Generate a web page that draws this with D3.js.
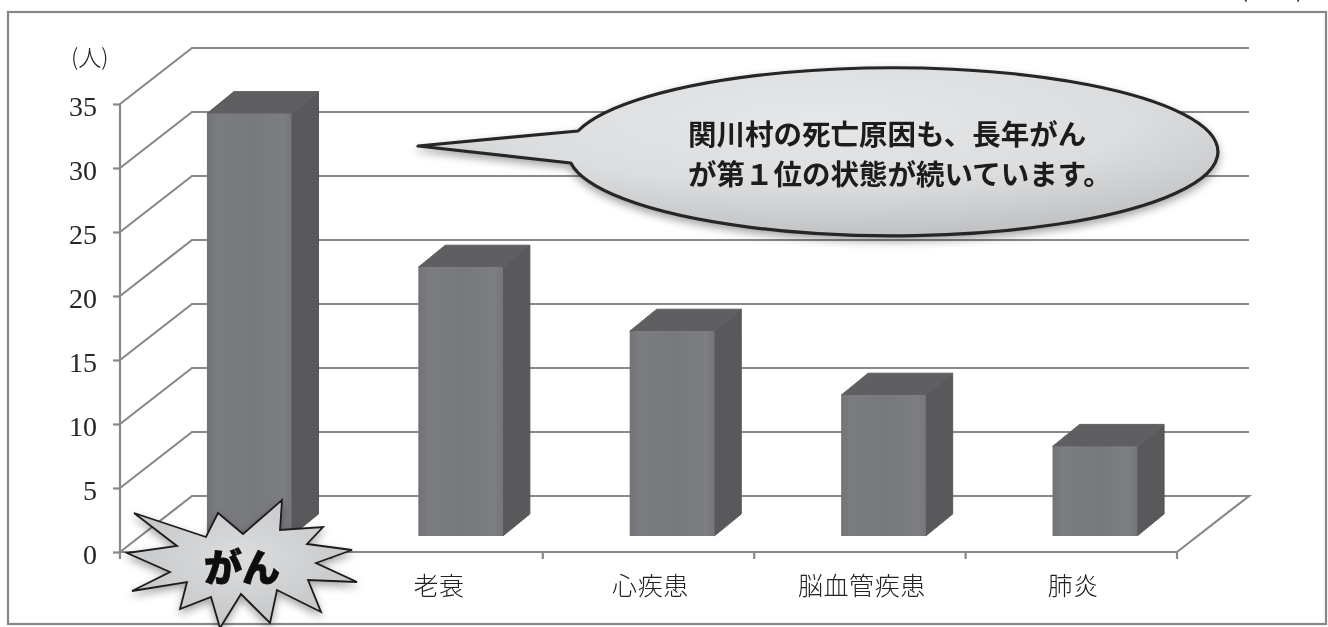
<!DOCTYPE html>
<html lang="ja"><head><meta charset="utf-8">
<script src="https://cdn.jsdelivr.net/npm/d3@7/dist/d3.min.js"></script>
<style>html,body{margin:0;padding:0;background:#fff;overflow:hidden}svg{display:block;filter:blur(0.6px)}</style>
</head><body><div id="c"></div>
<script>
const categories = ["がん","老衰","心疾患","脳血管疾患","肺炎"];
const values = [33,21,16,11,7];
const tickValues = [0,5,10,15,20,25,30,35];
const unitLabel = "(人)";
const calloutLines = ["関川村の死亡原因も、長年がん","が第１位の状態が続いています。"];
const burstLabel = "がん";
const burstPoints = [[134,513],[206,537],[218,513],[243,534],[282,500],[280,530],[323,527],[307,544],[352,550],[316,563],[357,582],[308,580],[321,612],[277,590],[270,623],[241,594],[220,628],[211,597],[180,609],[187,582],[132,591],[170,572],[127,553],[177,546]];

const W=1328,H=627, wallDx=72, wallDy=56, barDx=27, barDy=22, barLift=16, barShift=23.5;
const jp='"Noto Sans CJK JP","Noto Sans",sans-serif';
const svg=d3.select("#c").append("svg").attr("width",W).attr("height",H);
const defs=svg.append("defs");
const y=d3.scaleLinear().domain([0,35]).range([552,104]);
const x=d3.scaleBand().domain(categories).range([120,1177]).paddingInner(0.6).paddingOuter(0.3);
const band=d3.scaleBand().domain(categories).range([120,1177]);
const gridColor="#87898c";

const fg=defs.append("linearGradient").attr("id","front");
[[0,"#727376"],[.12,"#7b7c7f"],[.55,"#78797c"],[.9,"#7d7e81"],[1,"#757679"]].forEach(s=>fg.append("stop").attr("offset",s[0]).attr("stop-color",s[1]));
const eg=defs.append("radialGradient").attr("id","oval").attr("cx",.5).attr("cy",.3).attr("r",.72);
[[0,"#e6e7e8"],[.55,"#dcddde"],[1,"#bfc0c2"]].forEach(s=>eg.append("stop").attr("offset",s[0]).attr("stop-color",s[1]));
const sg=defs.append("radialGradient").attr("id","burst").attr("cx",.5).attr("cy",.45).attr("r",.6);
[[0,"#dcdddf"],[1,"#c3c4c6"]].forEach(s=>sg.append("stop").attr("offset",s[0]).attr("stop-color",s[1]));
const sh=defs.append("filter").attr("id","shadow").attr("x","-10%").attr("y","-10%").attr("width","120%").attr("height","130%");
sh.append("feDropShadow").attr("dx",0).attr("dy",4).attr("stdDeviation",4).attr("flood-color","#000").attr("flood-opacity",.35);

// frame
svg.append("rect").attr("x",8).attr("y",12).attr("width",1318).attr("height",612).attr("fill","none").attr("stroke","#85878a").attr("stroke-width",2.2);
// text clipped by the top edge, as in the reference
svg.append("text").attr("x",1240).attr("y",-3).attr("font-family",jp).attr("font-size",24).attr("fill","#333").text("(");
svg.append("text").attr("x",1296).attr("y",-3).attr("font-family",jp).attr("font-size",24).attr("fill","#333").text(")");

// walls and grid
const grid=svg.append("g").attr("fill","none").attr("stroke",gridColor).attr("stroke-width",2.2);
const right=1177+wallDx;
grid.selectAll("path.g").data(tickValues.slice(1)).join("path").attr("class","g")
  .attr("d",v=>d3.line()([[120,y(v)],[120+wallDx,y(v)-wallDy],[right,y(v)-wallDy]]));
grid.append("path").attr("d",d3.line().curve(d3.curveLinearClosed)([[120,y(0)],[120+wallDx,y(0)-wallDy],[right,y(0)-wallDy],[1177,y(0)]]));
grid.append("path").attr("d",d3.line()([[120,y(0)],[120,y(35)]]));

// axes
const ay=svg.append("g").attr("transform","translate(120,0)")
  .call(d3.axisLeft(y).tickValues(tickValues).tickSize(7).tickPadding(16));
ay.select(".domain").remove();
ay.selectAll("line").attr("stroke",gridColor).attr("stroke-width",2.2);
ay.selectAll("text").attr("font-family",'"Liberation Serif",serif').attr("font-size",28).attr("fill","#262626").attr("dy","0.38em").attr("transform","translate(0,1)");
const ax=svg.append("g").attr("fill","none");
ax.selectAll("line").data(d3.range(categories.length+1)).join("line")
  .attr("x1",i=>120+i*band.bandwidth()).attr("x2",i=>120+i*band.bandwidth())
  .attr("y1",y(0)).attr("y2",y(0)+7).attr("stroke",gridColor).attr("stroke-width",2.2);
svg.append("g").selectAll("text").data(categories.slice(1)).join("text")
  .attr("x",d=>band(d)+band.bandwidth()/2+2).attr("y",586).attr("dy",".36em").attr("text-anchor","middle")
  .attr("font-family",jp).attr("font-weight",300).attr("font-size",25).attr("letter-spacing",.6).attr("fill","#222").text(d=>d);
svg.append("text").attr("x",71).attr("y",58).attr("dy",".36em").attr("font-family",jp).attr("font-weight",300).attr("font-size",23).attr("fill","#222").text(unitLabel);

// bars
const bars=svg.append("g").selectAll("g").data(categories.map((c,i)=>({c,v:values[i]}))).join("g");
const L=d=>x(d.c)+barShift, R=d=>L(d)+x.bandwidth(), Y0=()=>y(0)-barLift, YT=d=>y(d.v)-barLift;
bars.append("path").attr("fill","#59595c").attr("stroke","#59595c").attr("d",d=>d3.line().curve(d3.curveLinearClosed)([[R(d),YT(d)],[R(d)+barDx,YT(d)-barDy],[R(d)+barDx,Y0()-barDy],[R(d),Y0()]]));
bars.append("path").attr("fill","#5f5f62").attr("stroke","#5f5f62").attr("d",d=>d3.line().curve(d3.curveLinearClosed)([[L(d),YT(d)],[L(d)+barDx,YT(d)-barDy],[R(d)+barDx,YT(d)-barDy],[R(d),YT(d)]]));
bars.append("rect").attr("fill","url(#front)").attr("x",L).attr("y",YT).attr("width",x.bandwidth()).attr("height",d=>Y0()-YT(d));

// callout
const rx=325,ry=84;
svg.append("path").attr("fill","url(#oval)").attr("stroke","#262626").attr("stroke-width",3.2).attr("stroke-linejoin","round").attr("filter","url(#shadow)")
  .attr("d",`M418,146L578,131A${rx},${ry} 0 1 1 570.8,163Z`);
svg.append("g").selectAll("text").data(calloutLines).join("text")
  .attr("x",688).attr("y",(d,i)=>135+i*40).attr("dy",".36em")
  .attr("font-family",jp).attr("font-weight",700).attr("font-size",28.5).attr("fill","#1c1c1c").text(d=>d);

// burst
svg.append("path").attr("fill","url(#burst)").attr("stroke","#1c1c1c").attr("stroke-width",1.8).attr("stroke-linejoin","miter").attr("filter","url(#shadow)")
  .attr("d",d3.line().curve(d3.curveLinearClosed)(burstPoints));
svg.append("text").attr("x",242).attr("y",567).attr("dy",".36em").attr("text-anchor","middle").attr("font-family",jp).attr("font-weight",900).attr("font-size",38).attr("fill","#0d0d0d").attr("stroke","#0d0d0d").attr("stroke-width",.8).text(burstLabel);
</script></body></html>
